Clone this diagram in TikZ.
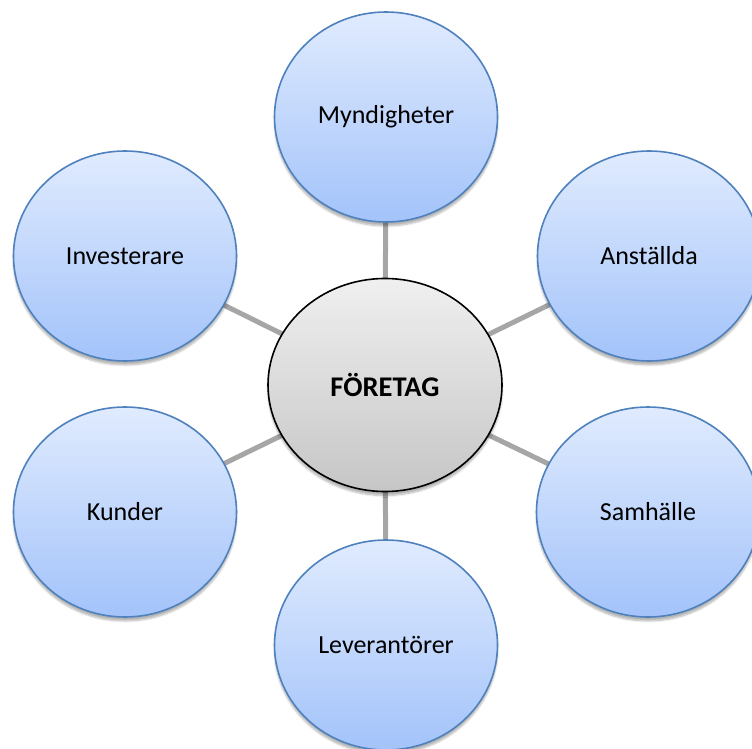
\documentclass[tikz,border=0pt]{standalone}
\usepackage{fontspec}
\setmainfont{Carlito}
\usetikzlibrary{shapes.geometric,shadows.blur}
\definecolor{bdblue}{RGB}{79,129,189}
\definecolor{topblue}{RGB}{224,235,254}
\definecolor{botblue}{RGB}{163,195,250}
\definecolor{linegray}{RGB}{166,166,166}
\tikzset{
  outer/.style={ellipse, draw=bdblue, line width=1.6pt, top color=topblue, bottom color=botblue,
    minimum width=223pt, minimum height=210pt, inner sep=0pt,
    font=\fontsize{26}{30}\selectfont,
    blur shadow={shadow xshift=0pt, shadow yshift=-4pt, shadow opacity=30, shadow blur steps=6}},
  core/.style={ellipse, draw=black, line width=1.6pt, top color=gray!12, bottom color=gray!45,
    minimum width=234pt, minimum height=213pt, inner sep=0pt,
    font=\fontsize{28.5}{32}\selectfont\bfseries,
    blur shadow={shadow xshift=0pt, shadow yshift=-4pt, shadow opacity=30, shadow blur steps=6}},
  spoke/.style={draw=linegray, line width=5pt}
}
\begin{document}
\begin{tikzpicture}[x=1pt,y=-1pt]
\useasboundingbox (0,0) rectangle (752,749);
\coordinate (cc) at (385,385);
\coordinate (pm) at (386,117);
\coordinate (pa) at (649,256);
\coordinate (ps) at (648,512);
\coordinate (pl) at (386,645);
\coordinate (pk) at (125,512);
\coordinate (pi) at (125,256);
\draw[spoke] (cc) -- (pm);
\draw[spoke] (cc) -- (pa);
\draw[spoke] (cc) -- (ps);
\draw[spoke] (cc) -- (pl);
\draw[spoke] (cc) -- (pk);
\draw[spoke] (cc) -- (pi);
\node[outer] (m) at (pm) {Myndigheter};
\node[outer] (a) at (pa) {Anställda};
\node[outer] (s) at (ps) {Samhälle};
\node[outer] (l) at (pl) {Leverantörer};
\node[outer] (k) at (pk) {Kunder};
\node[outer] (i) at (pi) {Investerare};
\node[core] (c) at (cc) {FÖRETAG};
\end{tikzpicture}
\end{document}
